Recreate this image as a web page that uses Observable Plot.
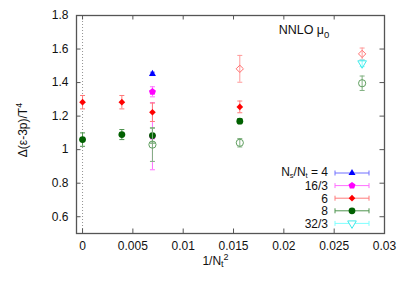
<!DOCTYPE html>
<html><head><meta charset="utf-8">
<script src="https://cdn.jsdelivr.net/npm/d3@7"></script>
<script src="https://cdn.jsdelivr.net/npm/@observablehq/plot@0.6"></script>
<style>body{margin:0;background:#fff} #chart svg{display:block}</style>
</head><body><div id="chart"></div>
<script>
// ---- data ----
const seriesNames = ["4", "16/3", "6", "8", "32/3"];
const xTicks = [0, 0.005, 0.01, 0.015, 0.02, 0.025, 0.03];
const xTickLabels = ["0", "0.005", "0.01", "0.015", "0.02", "0.025", "0.03"];
const yTicks = [0.6, 0.8, 1, 1.2, 1.4, 1.6, 1.8];
const yTickLabels = ["0.6", "0.8", "1", "1.2", "1.4", "1.6", "1.8"];
// Nt = 0 means continuum (1/Nt^2 = 0)
const ptSeries = ["4", "16/3", "16/3", "6", "6", "6", "6", "8", "8", "8", "8", "6", "6", "32/3", "8", "8", "8"];
const ptNt     = [12, 12, 12, 0, 16, 12, 8, 0, 16, 12, 8, 8, 6, 6, 12, 8, 6];
const ptY      = [1.452, 1.08, 1.345, 1.283, 1.283, 1.223, 1.255, 1.06, 1.09, 1.084, 1.17, 1.482, 1.571, 1.515, 1.03, 1.041, 1.396];
const ptErr    = [0.01, 0.2, 0.03, 0.04, 0.04, 0.055, 0.035, 0.04, 0.03, 0.045, 0.015, 0.08, 0.035, 0.02, 0.1, 0.025, 0.043];
const ptOpen   = [false, false, false, false, false, false, false, false, false, false, false, true, true, true, true, true, true];

// ---- styles ----
const pentagon = {draw(ctx, size) {
  const r = Math.sqrt(size / 2.378);
  for (let i = 0; i < 5; i++) {
    const a = -Math.PI / 2 + i * 2 * Math.PI / 5;
    if (i === 0) ctx.moveTo(r * Math.cos(a), r * Math.sin(a)); else ctx.lineTo(r * Math.cos(a), r * Math.sin(a));
  }
  ctx.closePath();
}};
const triDown = {draw(ctx, size) {
  const r = Math.sqrt(size / 1.299);
  ctx.moveTo(0, r); ctx.lineTo(-r * 0.866, -r / 2); ctx.lineTo(r * 0.866, -r / 2); ctx.closePath();
}};
const capH = {draw(ctx) { ctx.moveTo(-2.5, 0); ctx.lineTo(2.5, 0); }};
const capV = {draw(ctx) { ctx.moveTo(0, -2.5); ctx.lineTo(0, 2.5); }};
const symMap = {triangle: d3.symbolTriangle, diamond2: d3.symbolDiamond2, circle: d3.symbolCircle};

const styles = {
  "4|false":    {color: "#0000ff", bar: "#7070ff", symbol: "triangle", r: 2.6},
  "16/3|false": {color: "#ff00ff", bar: "#ff70ff", symbol: pentagon, r: 3.2},
  "6|false":    {color: "#ff0000", bar: "#ff7a7a", symbol: "diamond2", r: 3.0},
  "8|false":    {color: "#006000", bar: "#4f944f", symbol: "circle", r: 3.4},
  "6|true":     {color: "#ff7070", bar: "#ff9a9a", symbol: "diamond2", r: 3.3},
  "32/3|true":  {color: "#40eaea", bar: "#80ffff", symbol: triDown, r: 3.2},
  "8|true":     {color: "#5f9f5f", bar: "#80b080", symbol: "circle", r: 3.6}
};
const legendKeys = ["4|false", "16/3|false", "6|false", "8|false", "32/3|true"];

const points = ptY.map((y, i) => ({
  s: ptSeries[i], x: ptNt[i] ? 1 / (ptNt[i] * ptNt[i]) : 0, y, e: ptErr[i], open: ptOpen[i]
}));
const groups = d3.groups(points, d => `${d.s}|${d.open}`);

const ML = 76, MR = 25, MT = 15, MB = 53, W = 409, H = 286;
const IW = W - ML - MR, IH = H - MT - MB;

const dataMarks = [];
for (const [key, pts] of groups) {
  const st = styles[key];
  const open = pts[0].open;
  dataMarks.push(
    Plot.ruleX(pts, {x: "x", y1: d => d.y - d.e, y2: d => d.y + d.e, stroke: st.bar, strokeWidth: 1}),
    Plot.dot(pts, {x: "x", y: d => d.y - d.e, symbol: capH, stroke: st.bar, strokeWidth: 1, r: 1}),
    Plot.dot(pts, {x: "x", y: d => d.y + d.e, symbol: capH, stroke: st.bar, strokeWidth: 1, r: 1}),
    Plot.dot(pts, {x: "x", y: "y", symbol: st.symbol, r: st.r,
      fill: open ? "none" : st.color, stroke: open ? st.color : "none", strokeWidth: 1})
  );
}

const chart = Plot.plot({
  width: W, height: H, marginLeft: ML, marginRight: MR, marginTop: MT, marginBottom: MB,
  style: {fontFamily: "'Liberation Sans', Arial, sans-serif", fontSize: "12px", color: "#111", background: "#fff"},
  x: {domain: [-0.0006, 0.03], label: null},
  y: {domain: [0.5, 1.8], label: null},
  marks: [
    Plot.ruleX([0], {x: d => d, stroke: "#777", strokeWidth: 0.8, strokeDasharray: "1,2"}),
    Plot.tickX(xTicks, {x: d => d, insetTop: IH - 4.5, stroke: "#555", strokeWidth: 1}),
    Plot.tickX(xTicks, {x: d => d, insetBottom: IH - 4.5, stroke: "#555", strokeWidth: 1}),
    Plot.tickY(yTicks, {y: d => d, insetRight: IW - 4.5, stroke: "#555", strokeWidth: 1}),
    Plot.tickY(yTicks, {y: d => d, insetLeft: IW - 4.5, stroke: "#555", strokeWidth: 1}),
    Plot.axisX(xTicks, {tickSize: 0, tickPadding: 8, tickFormat: d => xTickLabels[xTicks.indexOf(d)], label: null}),
    Plot.axisY(yTicks, {tickSize: 0, tickPadding: 8, tickFormat: d => yTickLabels[yTicks.indexOf(d)], label: null}),
    ...dataMarks,
    Plot.frame({stroke: "#555", strokeWidth: 1.3})
  ]
});
document.getElementById("chart").appendChild(chart);

// ---- annotations: labels, title, legend ----
const svg = d3.select(chart);
const font = "'Liberation Sans', Arial, sans-serif";

// y label
const yl = svg.append("text").attr("transform", "translate(27,130) rotate(-90)")
  .attr("text-anchor", "middle").attr("font-family", font).attr("font-size", 12).attr("fill", "#111");
yl.append("tspan").text("Δ(ε-3p)/T");
yl.append("tspan").attr("dy", -5).attr("font-size", 9).text("4");

// x label
const xl = svg.append("text").attr("x", 215.5).attr("y", 264.5)
  .attr("font-family", font).attr("font-size", 12).attr("fill", "#111");
xl.append("tspan").text("1/N");
xl.append("tspan").attr("dy", 2.5).attr("font-size", 9).text("t");
xl.append("tspan").attr("dy", -7.5).attr("font-size", 9).text("2");

// title
const tt = svg.append("text").attr("x", 304).attr("y", 34)
  .attr("font-family", font).attr("font-size", 12.5).attr("fill", "#111");
tt.append("tspan").text("NNLO μ");
tt.append("tspan").attr("dy", 3.5).attr("font-size", 9.5).text("0");

// legend
const lg = svg.append("g");
legendKeys.forEach((key, i) => {
  const st = styles[key];
  const name = seriesNames[i];
  const yy = 173 + i * 12.6;
  const row = lg.append("g");
  const t = row.append("text").attr("x", 328).attr("y", yy + 4.3).attr("text-anchor", "end")
    .attr("font-family", font).attr("font-size", 12).attr("fill", "#111");
  if (i === 0) {
    t.attr("y", yy + 3.2);
    t.append("tspan").text("N");
    t.append("tspan").attr("dy", 1.8).attr("font-size", 7.5).text("s");
    t.append("tspan").attr("dy", -1.8).text("/N");
    t.append("tspan").attr("dy", 1.8).attr("font-size", 7.5).text("t");
    t.append("tspan").attr("dy", -1.8).text(" = " + name);
  } else {
    t.text(name);
  }
  row.append("line").attr("x1", 335).attr("x2", 369).attr("y1", yy).attr("y2", yy)
    .attr("stroke", st.bar).attr("stroke-width", 1);
  [335, 369].forEach(cx => row.append("path").attr("transform", `translate(${cx},${yy})`)
    .attr("d", d3.symbol(capV)()).attr("stroke", st.bar).attr("fill", "none"));
  const type = typeof st.symbol === "string" ? symMap[st.symbol] : st.symbol;
  const open = key.endsWith("true");
  row.append("path").attr("transform", `translate(352,${yy})`)
    .attr("d", d3.symbol(type, st.r * st.r * Math.PI)())
    .attr("fill", open ? "#fff" : st.color).attr("stroke", open ? st.color : "none");
});
</script>
</body></html>
